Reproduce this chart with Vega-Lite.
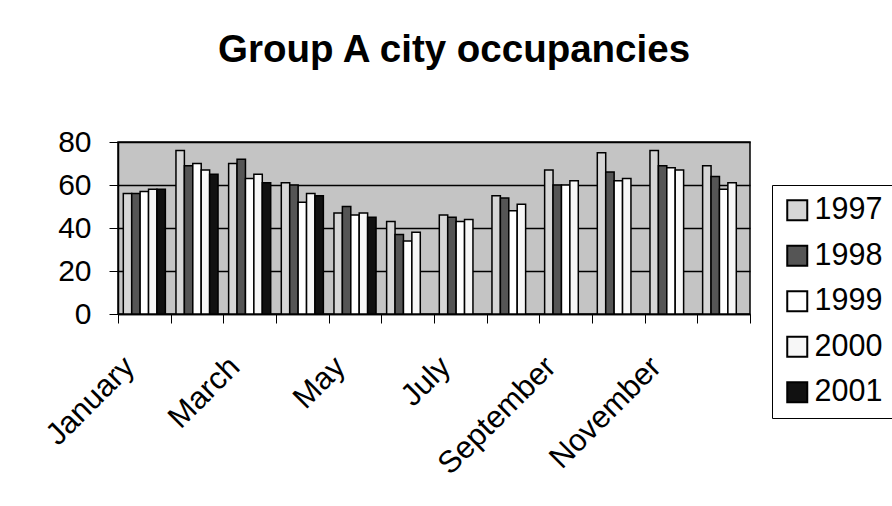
{
  "$schema": "https://vega.github.io/schema/vega-lite/v6.json",
  "autosize": "none",
  "width": 632,
  "height": 172,
  "padding": {"left": 118, "top": 142, "right": 142, "bottom": 192},
  "background": "white",
  "title": {
    "text": "Group A city occupancies",
    "font": "Liberation Sans",
    "fontSize": 38.5,
    "fontWeight": "bold",
    "color": "black",
    "anchor": "middle",
    "frame": "group",
    "dx": 20,
    "offset": 57
  },
  "data": {
    "values": [
      {"month": "January", "year": "1997", "value": 56},
      {"month": "January", "year": "1998", "value": 56},
      {"month": "January", "year": "1999", "value": 57},
      {"month": "January", "year": "2000", "value": 58},
      {"month": "January", "year": "2001", "value": 58},
      {"month": "February", "year": "1997", "value": 76},
      {"month": "February", "year": "1998", "value": 69},
      {"month": "February", "year": "1999", "value": 70},
      {"month": "February", "year": "2000", "value": 67},
      {"month": "February", "year": "2001", "value": 65},
      {"month": "March", "year": "1997", "value": 70},
      {"month": "March", "year": "1998", "value": 72},
      {"month": "March", "year": "1999", "value": 63},
      {"month": "March", "year": "2000", "value": 65},
      {"month": "March", "year": "2001", "value": 61},
      {"month": "April", "year": "1997", "value": 61},
      {"month": "April", "year": "1998", "value": 60},
      {"month": "April", "year": "1999", "value": 52},
      {"month": "April", "year": "2000", "value": 56},
      {"month": "April", "year": "2001", "value": 55},
      {"month": "May", "year": "1997", "value": 47},
      {"month": "May", "year": "1998", "value": 50},
      {"month": "May", "year": "1999", "value": 46},
      {"month": "May", "year": "2000", "value": 47},
      {"month": "May", "year": "2001", "value": 45},
      {"month": "June", "year": "1997", "value": 43},
      {"month": "June", "year": "1998", "value": 37},
      {"month": "June", "year": "1999", "value": 34},
      {"month": "June", "year": "2000", "value": 38},
      {"month": "July", "year": "1997", "value": 46},
      {"month": "July", "year": "1998", "value": 45},
      {"month": "July", "year": "1999", "value": 43},
      {"month": "July", "year": "2000", "value": 44},
      {"month": "August", "year": "1997", "value": 55},
      {"month": "August", "year": "1998", "value": 54},
      {"month": "August", "year": "1999", "value": 48},
      {"month": "August", "year": "2000", "value": 51},
      {"month": "September", "year": "1997", "value": 67},
      {"month": "September", "year": "1998", "value": 60},
      {"month": "September", "year": "1999", "value": 60},
      {"month": "September", "year": "2000", "value": 62},
      {"month": "October", "year": "1997", "value": 75},
      {"month": "October", "year": "1998", "value": 66},
      {"month": "October", "year": "1999", "value": 62},
      {"month": "October", "year": "2000", "value": 63},
      {"month": "November", "year": "1997", "value": 76},
      {"month": "November", "year": "1998", "value": 69},
      {"month": "November", "year": "1999", "value": 68},
      {"month": "November", "year": "2000", "value": 67},
      {"month": "December", "year": "1997", "value": 69},
      {"month": "December", "year": "1998", "value": 64},
      {"month": "December", "year": "1999", "value": 58},
      {"month": "December", "year": "2000", "value": 61}
    ]
  },
  "mark": {"type": "bar", "stroke": "black", "strokeWidth": 1.5},
  "encoding": {
    "x": {
      "field": "month",
      "type": "nominal",
      "sort": ["January", "February", "March", "April", "May", "June", "July", "August", "September", "October", "November", "December"],
      "scale": {"paddingInner": 0, "paddingOuter": 0},
      "axis": {
        "title": null,
        "tickBand": "extent",
        "tickSize": 9,
        "tickColor": "black",
        "tickWidth": 1,
        "domainColor": "black",
        "domainWidth": 1.5,
        "labelAngle": -45,
        "labelAlign": "right",
        "labelBaseline": "middle",
        "labelPadding": 39,
        "labelOffset": -15,
        "labelFont": "Liberation Sans",
        "labelFontSize": 31,
        "labelColor": "black",
        "labelOverlap": false,
        "labelLimit": 400,
        "labelExpr": "indexof(['January','March','May','July','September','November'], datum.value) >= 0 ? datum.value : ''"
      }
    },
    "xOffset": {
      "field": "year",
      "type": "nominal",
      "scale": {"domain": ["1997", "1998", "1999", "2000", "2001"], "paddingInner": 0, "paddingOuter": 0.63}
    },
    "y": {
      "field": "value",
      "type": "quantitative",
      "scale": {"domain": [0, 80], "nice": false},
      "axis": {
        "title": null,
        "values": [0, 20, 40, 60, 80],
        "grid": true,
        "gridColor": "black",
        "gridWidth": 1.5,
        "gridOpacity": 1,
        "tickSize": 9,
        "tickColor": "black",
        "domainColor": "black",
        "domainWidth": 1.5,
        "labelPadding": 18,
        "labelFont": "Liberation Sans",
        "labelFontSize": 30,
        "labelColor": "black"
      }
    },
    "color": {
      "field": "year",
      "type": "nominal",
      "scale": {"domain": ["1997", "1998", "1999", "2000", "2001"], "range": ["#d6d6d6", "#555555", "#ffffff", "#f7f7f7", "#111111"]},
      "legend": {
        "title": null,
        "orient": "none",
        "legendX": 654,
        "legendY": 43,
        "symbolType": "square",
        "symbolSize": 400,
        "symbolStrokeColor": "black",
        "symbolStrokeWidth": 2,
        "labelFont": "Liberation Sans",
        "labelFontSize": 30.5,
        "labelColor": "black",
        "labelOffset": 2,
        "rowPadding": 14.5,
        "padding": 10,
        "strokeColor": "black",
        "fillColor": "white"
      }
    }
  },
  "config": {
    "view": {"fill": "#c4c4c4", "stroke": "black", "strokeWidth": 1.5}
  }
}
